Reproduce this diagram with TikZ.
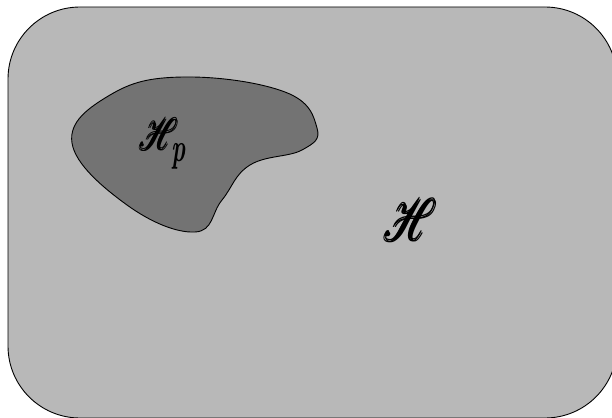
\documentclass[tikz,border=0pt]{standalone}
\usepackage{amsmath}
\usepackage{mathrsfs}
\definecolor{outer}{HTML}{B8B8B8}
\definecolor{inner}{HTML}{737373}
\tikzset{
  region/.style={draw=black, line width=0.9pt},
}
\begin{document}
\begin{tikzpicture}[x=1pt,y=-1pt]
\useasboundingbox (0,0) rectangle (612,417);
\begin{scope}
\clip (0,0) rectangle (612,417);
\draw[region, fill=outer, rounded corners=72pt] (8,7) rectangle (617,418);
\end{scope}
\draw[region, fill=inner] plot[smooth cycle, tension=0.7] coordinates {
 (72,143) (110,95) (183,77) (285,92) (317,128) (302,150) (250,165) (222,200) (195,232) (127,205)};
\node[xscale=3.1, yscale=4.4, inner sep=0pt] (hp) at (159,134) {$\pmb{\mathscr{H}}$};
\node[xscale=2.4, yscale=4.0, inner sep=0pt] (p) at (179,156) {\textbf{\textit{p}}};
\node[xscale=4.2, yscale=5.9, inner sep=0pt] (h) at (411,220) {$\pmb{\mathscr{H}}$};
\end{tikzpicture}
\end{document}
